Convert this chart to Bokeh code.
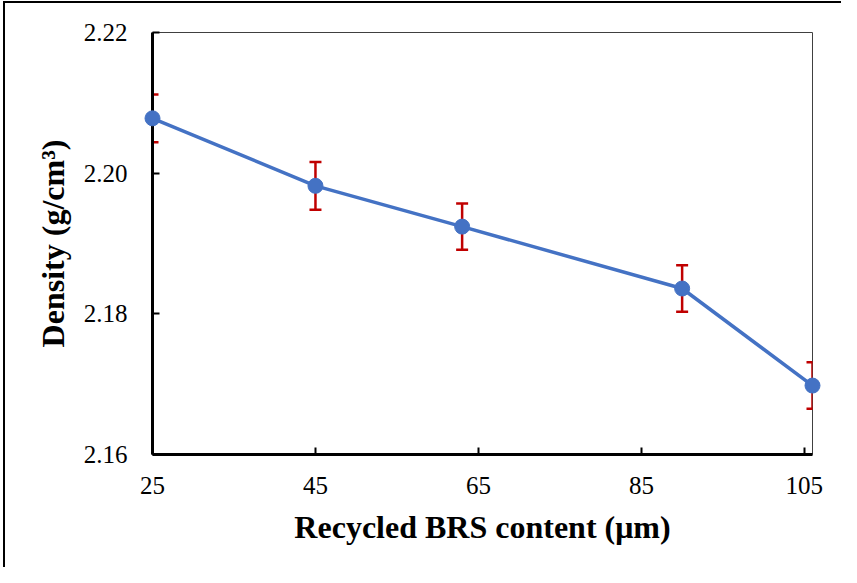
from bokeh.plotting import figure
from bokeh.models import ColumnDataSource, Range1d, FixedTicker, NumeralTickFormatter, Whisker, TeeHead
from bokeh.embed import file_html
from bokeh.resources import INLINE

# Data
particle_size = [25, 45, 63, 90, 106]
density = [2.2078, 2.1982, 2.1924, 2.1836, 2.1698]
density_err = [0.0034, 0.0034, 0.0033, 0.0033, 0.0033]
x_ticks = [25, 45, 65, 85, 105]
y_ticks = [2.16, 2.18, 2.20, 2.22]

src = ColumnDataSource(dict(
    x=particle_size,
    y=density,
    upper=[d + e for d, e in zip(density, density_err)],
    lower=[d - e for d, e in zip(density, density_err)],
))

p = figure(width=841, height=567, output_backend="svg", toolbar_location=None,
           x_range=Range1d(25, 106), y_range=Range1d(2.16, 2.22),
           min_border_left=152, min_border_right=29, min_border_top=32, min_border_bottom=113)
# outer chart border: left and top edges only (right/bottom lie outside the window)
p.styles = {"background": "linear-gradient(#000,#000) 3px 1px / 2px 100% no-repeat, "
                          "linear-gradient(#000,#000) 3px 1px / 100% 2px no-repeat"}

p.xgrid.visible = False
p.ygrid.visible = False
p.outline_line_color = "#404040"
p.outline_line_width = 1
p.background_fill_color = "white"
p.border_fill_color = None

for ax in (p.xaxis[0], p.yaxis[0]):
    ax.axis_line_color = "black"
    ax.axis_line_width = 3
    ax.major_tick_line_color = "black"
    ax.major_tick_line_width = 2
    ax.major_tick_in = 7
    ax.major_tick_out = 0
    ax.minor_tick_line_color = None
    ax.major_label_text_font = "Liberation Serif"
    ax.major_label_text_font_size = "25px"
    ax.major_label_text_color = "black"
    ax.axis_label_text_font = "Liberation Serif"
    ax.axis_label_text_font_size = "32px"
    ax.axis_label_text_font_style = "bold"
    ax.axis_label_text_color = "black"

p.xaxis.ticker = FixedTicker(ticks=x_ticks)
p.yaxis.ticker = FixedTicker(ticks=y_ticks)
p.yaxis.formatter = NumeralTickFormatter(format="0.00")
p.xaxis.axis_label = "Recycled BRS content (μm)"
p.yaxis.axis_label = "Density (g/cm³)"
p.xaxis.major_label_standoff = 22
p.yaxis.major_label_standoff = 25
p.xaxis.axis_label_standoff = 12
p.yaxis.axis_label_standoff = 10

err_color = "#C00000"
wh = Whisker(base="x", upper="upper", lower="lower", source=src,
             line_color=err_color, line_width=2.5,
             upper_head=TeeHead(size=12, line_color=err_color, line_width=2.5),
             lower_head=TeeHead(size=12, line_color=err_color, line_width=2.5))
wh.level = "glyph"
p.add_layout(wh)

ln = p.line("x", "y", source=src, line_color="#4472C4", line_width=3.5)
ln.level = "overlay"
sc = p.scatter("x", "y", source=src, size=15, fill_color="#4472C4", line_color="#4472C4")
sc.level = "overlay"

open("out.html", "w").write(file_html(p, INLINE))
